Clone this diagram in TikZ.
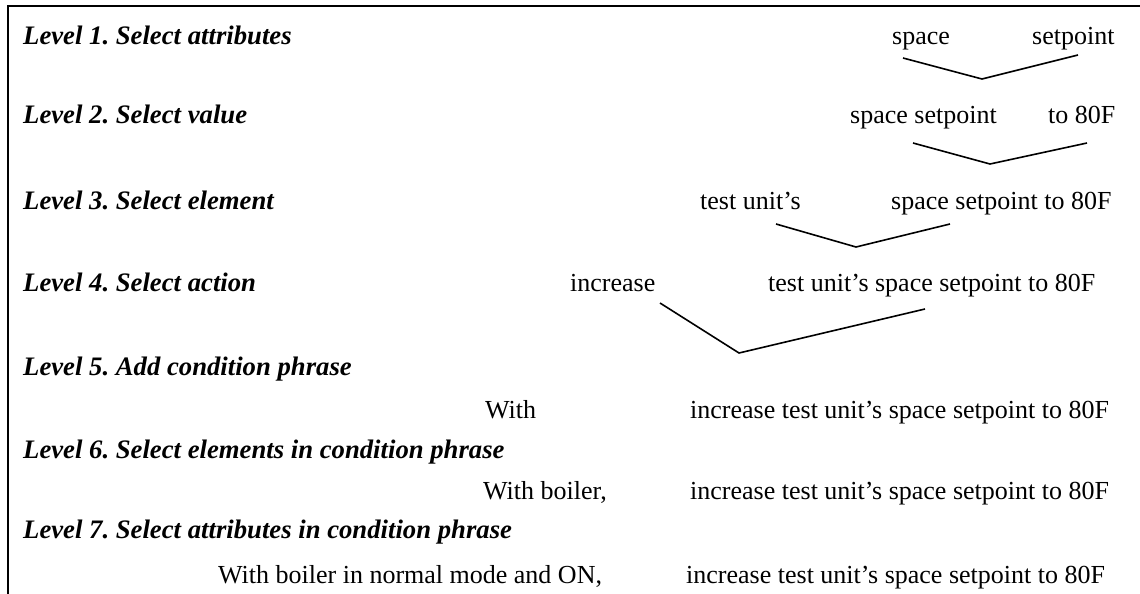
\documentclass[tikz,border=0pt]{standalone}
\usepackage{fontspec}
\setmainfont{Liberation Serif}
\frenchspacing

\tikzset{
  level/.style={anchor=base west, inner sep=0pt, font=\fontsize{26.7}{30}\selectfont\bfseries\itshape},
  word/.style={anchor=base west, inner sep=0pt, font=\fontsize{26}{30}\selectfont},
  vlink/.style={line width=1.6pt}
}

\begin{document}
\begin{tikzpicture}[x=1pt, y=-1pt]

\useasboundingbox (0,0) rectangle (1140,594);
\draw[line width=2.4pt] (1140,6) -- (8,6) -- (8,594);

% level labels
\node[level] (l1) at (23,45) {Level 1. Select attributes};
\node[level] (l2) at (23,123) {Level 2. Select value};
\node[level] (l3) at (23,209) {Level 3. Select element};
\node[level] (l4) at (23,291) {Level 4. Select action};
\node[level] (l5) at (23,375) {Level 5. Add condition phrase};
\node[level] (l6) at (23,458) {Level 6. Select elements in condition phrase};
\node[level] (l7) at (23,538) {Level 7. Select attributes in condition phrase};

% level 1
\node[word] (space) at (892,45) {space};
\node[word] (setpoint) at (1032,45) {setpoint};
\coordinate (a1) at (903,58);
\coordinate (v1) at (982,79);
\coordinate (b1) at (1078,55);
\draw[vlink] (a1) -- (v1) -- (b1);

% level 2
\node[word] (spset) at (850,123) {space setpoint};
\node[word] (value) at (1048,123) {to 80F};
\coordinate (a2) at (913,143);
\coordinate (v2) at (990,164);
\coordinate (b2) at (1087,143);
\draw[vlink] (a2) -- (v2) -- (b2);

% level 3
\node[word] (unit) at (700,209) {test unit’s};
\node[word] (spvalue) at (891,209) {space setpoint to 80F};
\coordinate (a3) at (776,224);
\coordinate (v3) at (856,247);
\coordinate (b3) at (950,224);
\draw[vlink] (a3) -- (v3) -- (b3);

% level 4
\node[word] (action) at (570,291) {increase};
\node[word] (object) at (768,291) {test unit’s space setpoint to 80F};
\coordinate (a4) at (660,303);
\coordinate (v4) at (739,353);
\coordinate (b4) at (925,309);
\draw[vlink] (a4) -- (v4) -- (b4);

% levels 5 to 7
\node[word] (with1) at (485,418) {With};
\node[word] (main1) at (690,418) {increase test unit’s space setpoint to 80F};
\node[word] (with2) at (483,499) {With boiler,};
\node[word] (main2) at (690,499) {increase test unit’s space setpoint to 80F};
\node[word] (with3) at (218,583) {With boiler in normal mode and ON,};
\node[word] (main3) at (686,583) {increase test unit’s space setpoint to 80F};

\end{tikzpicture}
\end{document}
